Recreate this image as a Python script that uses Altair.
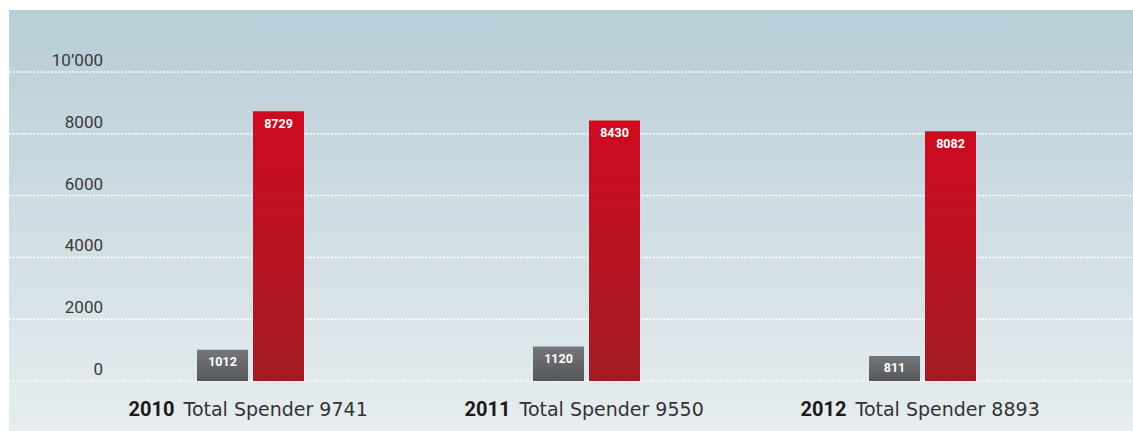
import altair as alt
import pandas as pd

years = ["2010", "2011", "2012"]
grey_vals = [1012, 1120, 811]
red_vals = [8729, 8430, 8082]
totals = [9741, 9550, 8893]
tick_vals = [0, 2000, 4000, 6000, 8000, 10000]
tick_labels = ["0", "2000", "4000", "6000", "8000", "10’000"]

bars = pd.DataFrame({
    "year": years * 2,
    "series": ["a"] * 3 + ["b"] * 3,
    "value": grey_vals + red_vals,
})
cats = pd.DataFrame({"year": years, "total": [f"Total Spender {t}" for t in totals]})
ticks = pd.DataFrame({"v": tick_vals, "label": tick_labels})
bg = pd.DataFrame({"k": [1]})

W, H = 1124, 421
yscale = alt.Scale(domain=[0, 10000], range=[371, 62])
xscale = alt.Scale(domain=years, range=[73.5, 1081.5], paddingInner=0, paddingOuter=0)
oscale = alt.Scale(domain=["a", "b"], range=[114.5, 221.5], paddingInner=5 / 56, paddingOuter=0)

def grad(top, bottom):
    return alt.LinearGradient(
        gradient="linear", x1=0, x2=0, y1=0, y2=1,
        stops=[alt.GradientStop(color=top, offset=0), alt.GradientStop(color=bottom, offset=1)],
    )

background = alt.Chart(bg).mark_rect(color=grad("#b8cdd7", "#e7edf0")).encode(
    x=alt.value(0), x2=alt.value(W), y=alt.value(0), y2=alt.value(H)
)

grid = alt.Chart(ticks).mark_rule(color="white", strokeDash=[2, 1.5], strokeWidth=1.5, opacity=0.95).encode(
    x=alt.value(0), x2=alt.value(W), y=alt.Y("v:Q", scale=yscale, axis=None)
)

tick_text = alt.Chart(ticks).mark_text(
    align="right", baseline="alphabetic", dy=-6, font="Roboto", fontSize=17, color="#3a3a3a"
).encode(x=alt.value(94), y=alt.Y("v:Q", scale=yscale, axis=None), text="label:N")

def bar_layer(series, g):
    return alt.Chart(bars).transform_filter(alt.datum.series == series).mark_bar(color=g).encode(
        x=alt.X("year:N", scale=xscale, axis=None),
        xOffset=alt.XOffset("series:N", scale=oscale),
        y=alt.Y("value:Q", scale=yscale, axis=None),
        y2=alt.datum(0),
    )

grey_bars = bar_layer("a", grad("#75777a", "#545658"))
red_bars = bar_layer("b", grad("#ce0a1f", "#a31c24"))

bar_text = alt.Chart(bars).mark_text(
    baseline="alphabetic", dy=16.5, font="Roboto", fontSize=12.5, fontWeight="bold", color="white"
).encode(
    x=alt.X("year:N", scale=xscale, axis=None),
    xOffset=alt.XOffset("series:N", scale=oscale),
    y=alt.Y("value:Q", scale=yscale, axis=None),
    text="value:Q",
)

year_text = alt.Chart(cats).mark_text(
    align="right", baseline="alphabetic", dx=-76, font="Roboto", fontSize=20, fontWeight="bold", color="#1a1a1a"
).encode(x=alt.X("year:N", scale=xscale, axis=None), y=alt.value(406), text="year:N")

total_text = alt.Chart(cats).mark_text(
    align="left", baseline="alphabetic", dx=-67, font="DejaVu Sans", fontSize=19, color="#333333"
).encode(x=alt.X("year:N", scale=xscale, axis=None), y=alt.value(406), text="total:N")

chart = alt.layer(
    background, grid, tick_text, grey_bars, red_bars, bar_text, year_text, total_text
).properties(
    width=W, height=H,
    autosize=alt.AutoSizeParams(type="none"),
    padding={"left": 9, "top": 10, "right": 0, "bottom": 0},
    background="white",
).configure_view(stroke=None)

chart.save("out.html", embed_options={"renderer": "svg", "actions": False})
